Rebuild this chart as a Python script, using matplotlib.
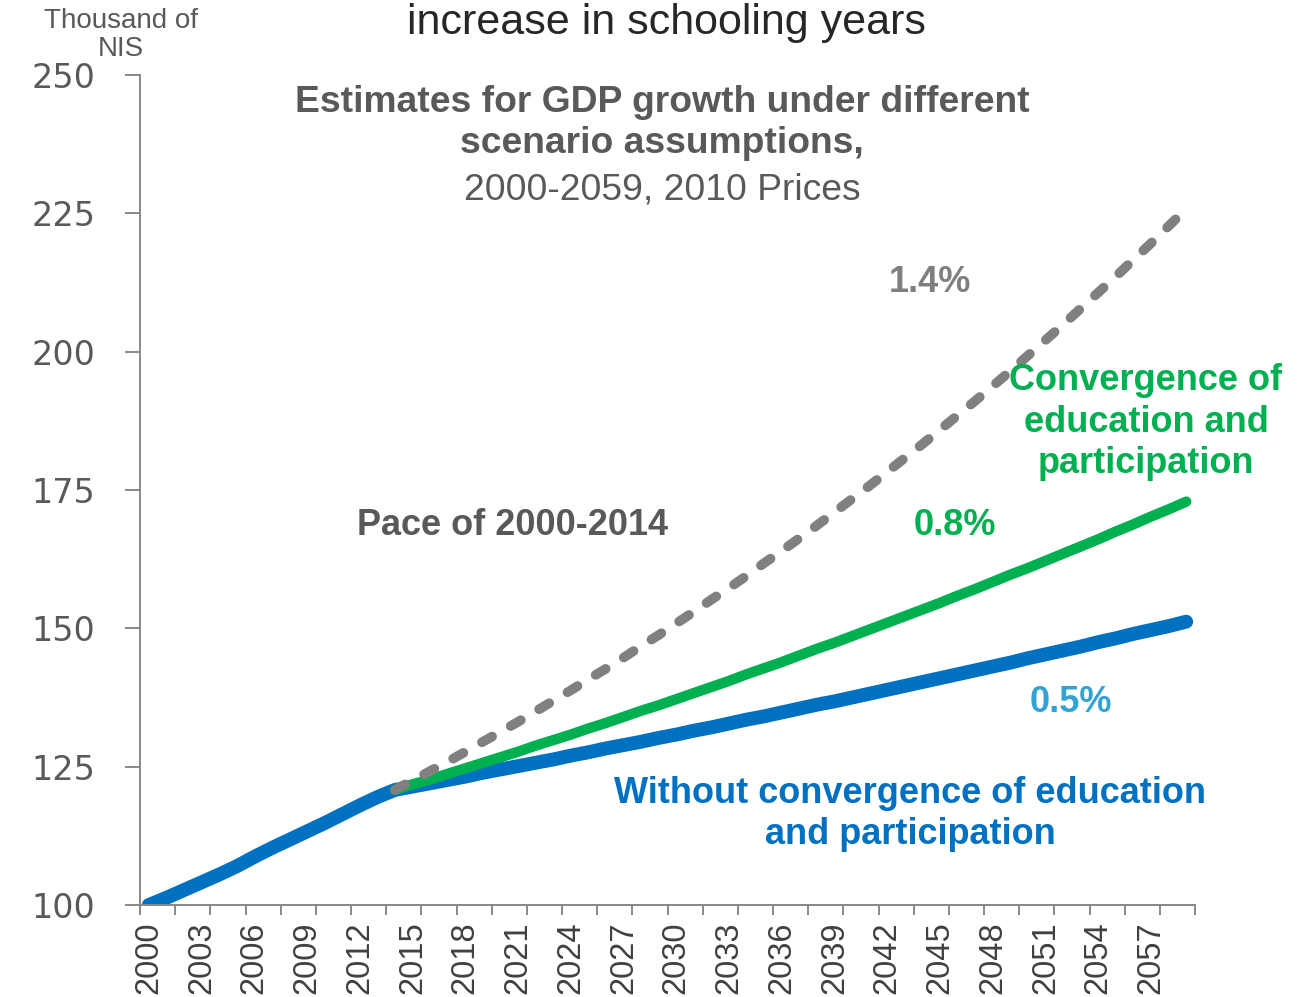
import numpy as np
import matplotlib
matplotlib.use("Agg")
import matplotlib.pyplot as plt

W, H = 1304, 997

years = list(range(2000, 2060))

# real GDP per capita index, thousand NIS (2010 prices)
hist_2000_2014 = [100.0, 101.3, 102.7, 104.1, 105.5, 107.0, 108.7, 110.3,
                  111.8, 113.3, 114.8, 116.4, 118.0, 119.5, 120.8]

# scenarios from 2014 onward
pace_2000_2014 = [120.8, 122.5, 124.2, 125.9, 127.7, 129.5, 131.3, 133.1, 135.0,
                  136.9, 138.8, 140.8, 142.7, 144.7, 146.8, 148.8, 150.9, 153.0,
                  155.2, 157.3, 159.5, 161.8, 164.0, 166.3, 168.6, 171.0, 173.4,
                  175.8, 178.3, 180.8, 183.3, 185.9, 188.5, 191.1, 193.8, 196.5,
                  199.3, 202.1, 204.9, 207.8, 210.7, 213.6, 216.6, 219.6, 222.7,
                  225.8]
convergence = [120.8, 121.8, 122.7, 123.7, 124.7, 125.7, 126.7, 127.7, 128.8,
               129.8, 130.8, 131.9, 132.9, 134.0, 135.1, 136.1, 137.2, 138.3,
               139.4, 140.5, 141.7, 142.8, 143.9, 145.1, 146.3, 147.4, 148.6,
               149.8, 151.0, 152.2, 153.4, 154.6, 155.9, 157.1, 158.4, 159.7,
               160.9, 162.2, 163.5, 164.8, 166.1, 167.5, 168.8, 170.2, 171.5,
               172.9]
no_convergence = [121.4, 122.0, 122.6, 123.2, 123.9, 124.5, 125.1, 125.7,
                  126.3, 127.0, 127.6, 128.3, 128.9, 129.5, 130.2, 130.8, 131.5,
                  132.1, 132.8, 133.5, 134.1, 134.8, 135.5, 136.2, 136.8, 137.5,
                  138.2, 138.9, 139.6, 140.3, 141.0, 141.7, 142.4, 143.1, 143.8,
                  144.6, 145.3, 146.0, 146.7, 147.5, 148.2, 149.0, 149.7, 150.4,
                  151.2]

blue_series = hist_2000_2014 + no_convergence
yticks = [100, 125, 150, 175, 200, 225, 250]

BLUE = "#0070c0"
GREEN = "#00b050"
GRAY = "#808080"
LIGHT_BLUE = "#33a2d4"
DARK = "#595959"
AXIS = "#888888"

fig = plt.figure(figsize=(W / 100, H / 100), dpi=100)
ax = fig.add_axes([140 / W, 1 - 905 / H, (1195 - 140) / W, (905 - 75) / H])

# category positions: each year sits in the middle of its slot
pos = np.arange(len(years)) + 0.5
start = len(hist_2000_2014) - 1

ax.plot(pos, blue_series, color=BLUE, lw=10, solid_capstyle="round",
        solid_joinstyle="round", zorder=2)
ax.plot(pos[start:], convergence, color=GREEN, lw=7.5,
        solid_capstyle="round", solid_joinstyle="round", zorder=3)
ax.plot(pos[start:], pace_2000_2014, color=GRAY, lw=7, dashes=(1.2, 2.2),
        dash_capstyle="round", zorder=4)

ax.set_xlim(0, len(years))
ax.set_ylim(100, 250)
ax.spines[["top", "right"]].set_visible(False)
for s in ["left", "bottom"]:
    ax.spines[s].set_color(AXIS)
    ax.spines[s].set_linewidth(1.4)

ax.set_yticks(yticks)
ax.tick_params(axis="y", direction="out", length=11, width=1.4, color=AXIS,
               pad=21, labelsize=24, labelcolor=DARK)
for lab in ax.get_yticklabels():
    lab.set_fontfamily("DejaVu Sans")

# ticks every two years, labels every three years
ax.set_xticks(np.arange(0, len(years) + 1, 2))
ax.set_xticklabels([])
ax.set_xticks(pos[::3], minor=True)
ax.set_xticklabels([str(y) for y in years[::3]], minor=True, rotation=90,
                   fontsize=23.5, color="#404040", fontfamily="Liberation Sans")
ax.tick_params(axis="x", which="major", direction="out", length=7.5,
               width=1.4, color=AXIS)
ax.tick_params(axis="x", which="minor", length=0, pad=12)


def label(x, y, s, size=26, color=DARK, weight="bold", ls=1.2):
    fig.text(x / W, 1 - y / H, s, ha="center", va="center", fontsize=size,
             color=color, fontweight=weight, fontfamily="Liberation Sans",
             linespacing=ls)


label(666, 23, "increase in schooling years", size=31, color="#262626",
      weight="normal")
label(121, 35, "Thousand of\nNIS", size=20, weight="normal", ls=1.15)
label(662, 123, "Estimates for GDP growth under different\nscenario assumptions,",
      size=26.8, ls=1.23)
label(662, 190, "2000-2059, 2010 Prices", size=26.8, weight="normal")
label(930, 283, "1.4%", color="#7f7f7f")
label(513, 525, "Pace of 2000-2014")
label(955, 525, "0.8%", color=GREEN)
label(1146, 422, "Convergence of\neducation and\nparticipation", color=GREEN,
      ls=1.23)
label(1071, 702, "0.5%", color=LIGHT_BLUE)
label(910, 814, "Without convergence of education\nand participation", color=BLUE,
      ls=1.23)

fig.savefig("out.png", dpi=100)
